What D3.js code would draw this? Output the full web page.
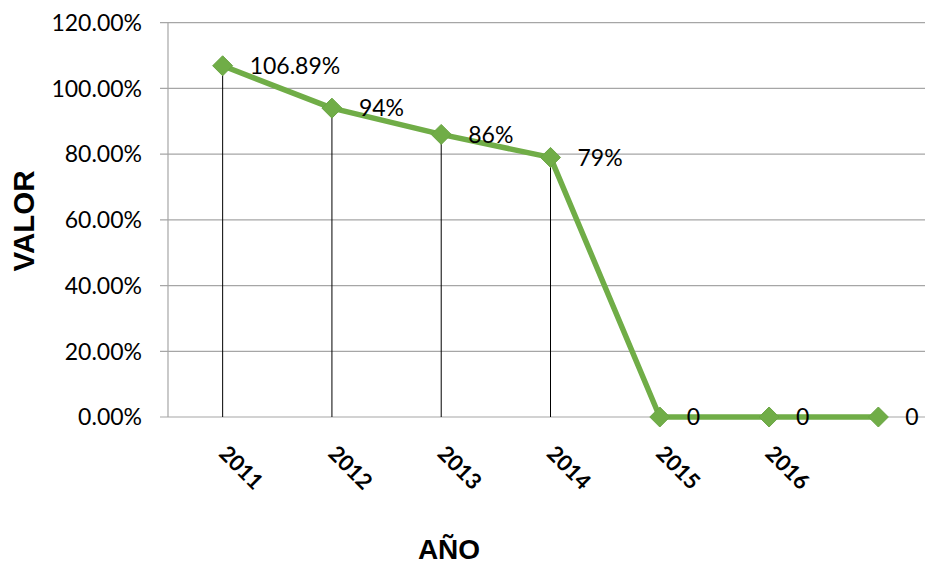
<!DOCTYPE html>
<html><head><meta charset="utf-8">
<script src="https://cdn.jsdelivr.net/npm/d3@7"></script>
<style>body{margin:0;background:#fff}svg{display:block}</style>
</head><body>
<script>
const categories = ["2011","2012","2013","2014","2015","2016",""];
const values = [1.0689, 0.94, 0.86, 0.79, 0, 0, 0];
const dataLabels = ["106.89%","94%","86%","79%","0","0","0"];
const yTicks = [0, 0.2, 0.4, 0.6, 0.8, 1.0, 1.2];

const W = 925, H = 564;
const pLeft = 168, pRight = 933, pTop = 22.7, pBottom = 417;
const svg = d3.select("body").append("svg").attr("width", W).attr("height", H);
const font = "Lato, 'Open Sans', sans-serif";

const x = d3.scaleBand().domain(categories.map((c,i)=>i)).range([pLeft, pRight]);
const y = d3.scaleLinear().domain([0, 1.2]).range([pBottom, pTop]);
const cx = i => x(i) + x.bandwidth()/2;

// gridlines + y ticks
const gy = svg.append("g");
gy.selectAll("line.grid").data(yTicks).join("line")
  .attr("x1", pLeft - 8).attr("x2", W).attr("y1", d=>y(d)).attr("y2", d=>y(d))
  .attr("stroke", "#a6a6a6").attr("stroke-width", 1.2);
gy.append("line").attr("x1", pLeft).attr("x2", pLeft).attr("y1", y(1.2)).attr("y2", y(0))
  .attr("stroke", "#a6a6a6").attr("stroke-width", 1.2);
gy.selectAll("text").data(yTicks).join("text")
  .attr("x", 142).attr("y", d=>y(d)).attr("dy", "0.36em")
  .attr("text-anchor", "end").attr("font-family", font).attr("font-size", 23)
  .attr("fill", "#000").text(d => d3.format(".2%")(d));

// drop lines
svg.append("g").selectAll("line").data(values).join("line")
  .attr("x1", (d,i)=>cx(i)).attr("x2", (d,i)=>cx(i))
  .attr("y1", d=>y(d)).attr("y2", y(0))
  .attr("stroke", "#000").attr("stroke-width", 1);

// series line
svg.append("path").datum(values)
  .attr("d", d3.line().x((d,i)=>cx(i)).y(d=>y(d)))
  .attr("fill", "none").attr("stroke", "#70ad47").attr("stroke-width", 5.5)
  .attr("stroke-linejoin", "round");

// markers
svg.append("g").selectAll("path").data(values).join("path")
  .attr("transform", (d,i)=>`translate(${cx(i)},${y(d)})`)
  .attr("d", "M0,-10L10,0L0,10L-10,0Z")
  .attr("fill", "#70ad47").attr("stroke", "#6aa544").attr("stroke-width", 1);

// data labels
svg.append("g").selectAll("text").data(values).join("text")
  .attr("x", (d,i)=>cx(i) + 27).attr("y", d=>y(d)).attr("dy", "0.36em")
  .attr("font-family", font).attr("font-size", 23).attr("fill", "#000")
  .text((d,i)=>dataLabels[i]);

// x tick labels
svg.append("g").selectAll("text").data(categories).join("text")
  .attr("transform", (d,i)=>`translate(${cx(i)-5},${pBottom+38}) rotate(45)`)
  .attr("font-family", font).attr("font-size", 22).attr("font-weight", "bold")
  .attr("fill", "#000").text(d=>d);

// axis titles
svg.append("text").attr("transform", `translate(34,221) rotate(-90)`)
  .attr("text-anchor", "middle").attr("font-family", "'Liberation Sans', Arial, sans-serif")
  .attr("font-size", 29.5).attr("font-weight", "bold").text("VALOR");
svg.append("text").attr("x", 449).attr("y", 559)
  .attr("text-anchor", "middle").attr("font-family", "'Liberation Sans', Arial, sans-serif")
  .attr("font-size", 28).attr("font-weight", "bold").text("AÑO");
</script>
</body></html>
